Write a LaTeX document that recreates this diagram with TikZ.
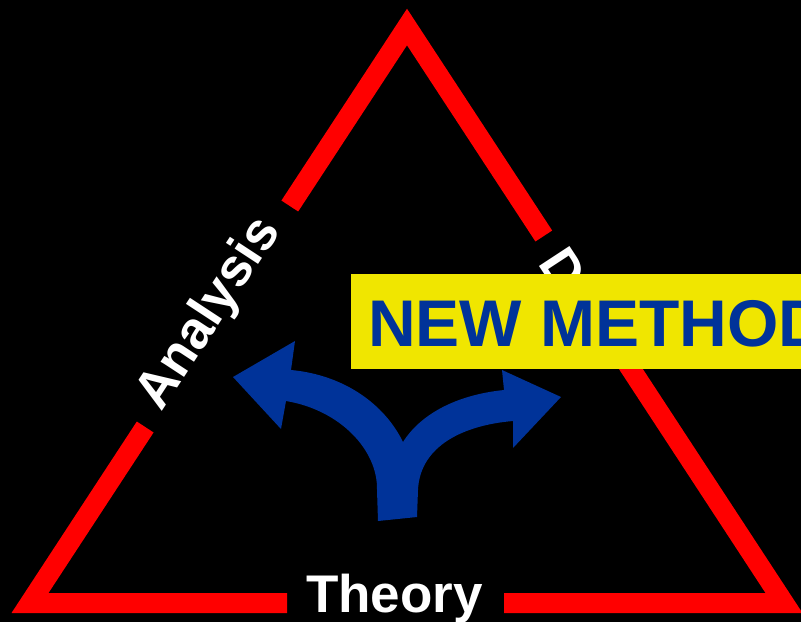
\documentclass[tikz,border=0pt]{standalone}
\usepackage{fontspec}
\setmainfont{Liberation Sans}
\usetikzlibrary{calc}
\definecolor{redline}{RGB}{255,0,0}
\definecolor{arrowblue}{RGB}{0,51,153}
\definecolor{boxyellow}{RGB}{240,230,0}
\tikzset{
  redside/.style={draw=redline, line width=20pt, line join=miter, line cap=butt},
  sidelabel/.style={text=white, font=\fontsize{53}{53}\selectfont\bfseries, inner sep=0pt},
  methodbox/.style={fill=boxyellow, draw=none},
  methodtext/.style={text=arrowblue, font=\fontsize{66}{66}\selectfont\bfseries, inner sep=0pt}
}
\begin{document}
\begin{tikzpicture}[x=1pt,y=-1pt]
\useasboundingbox (0,0) rectangle (801,622);
\clip (0,0) rectangle (801,622);
\fill[black] (0,0) rectangle (801,622);
% triangle corners
\coordinate (A) at (407,27);
\coordinate (BL) at (30,603);
\coordinate (BR) at (784,603);
% red sides with gaps
\draw[redside] (287,603) -- (BL) -- (145.2,427);
\draw[redside] (289.8,206) -- (A) -- (543.8,236);
\draw[redside] (625,360) -- (BR) -- (504,603);
% labels
\node[sidelabel, anchor=base] (theory) at (394.5,612) {Theory};
\node[sidelabel, rotate=56.75] (analysis) at (210,314) {Analysis};
\node[sidelabel, anchor=base west, rotate=-56.75] (design) at (537,263) {D};
% forked arrow
\fill[arrowblue] (378,521) -- (417,517) -- (418,490)
  .. controls (420,445) and (465,425) .. (513,421)
  -- (513,448) -- (561,397) -- (502,370) -- (504,390)
  .. controls (455,395) and (420,415) .. (403,442)
  .. controls (385,405) and (345,375) .. (291,370)
  -- (295,341) -- (233,377) -- (281,429) -- (286,401)
  .. controls (340,410) and (378,450) .. (377,490) -- cycle;
% new method box
\fill[methodbox] (351,274) rectangle (820,369);
\node[methodtext, anchor=base west] (method) at (368,346) {NEW METHOD};
\end{tikzpicture}
\end{document}
